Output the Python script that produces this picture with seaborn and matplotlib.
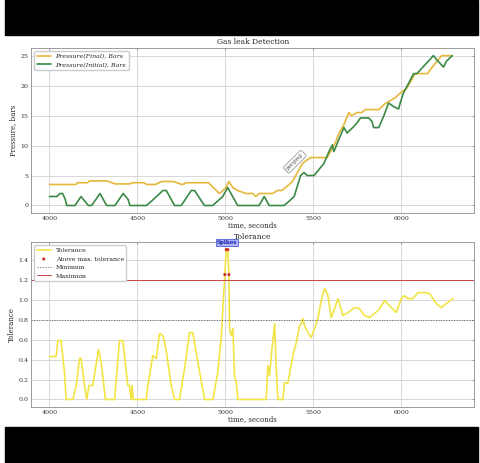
import numpy as np
import pandas as pd
import matplotlib
matplotlib.use("Agg")
import matplotlib.pyplot as plt
from matplotlib.patches import Rectangle
import seaborn as sns

# Pressure readings
t_final = [4000, 4150, 4159, 4216, 4227, 4326, 4373, 4459, 4468, 4535, 4554, 4601,
           4639, 4705, 4753, 4781, 4904, 4966, 5004, 5019, 5042, 5070, 5117, 5155,
           5174, 5192, 5268, 5296, 5320, 5343, 5362, 5381, 5400, 5419, 5438, 5460,
           5485, 5579, 5598, 5626, 5645, 5674, 5702, 5717, 5749, 5775, 5796, 5872,
           5890, 5909, 5938, 5966, 6004, 6030, 6060, 6079, 6150, 6174, 6202, 6230, 6290]
p_final = [3.5, 3.5, 3.8, 3.8, 4.1, 4.1, 3.6, 3.6, 3.8, 3.8, 3.5, 3.5,
           4.0, 4.0, 3.5, 3.8, 3.8, 2.0, 3.0, 4.0, 3.0, 2.5, 2.0, 2.0,
           1.5, 2.0, 2.0, 2.5, 2.5, 3.0, 3.5, 4.0, 5.0, 6.0, 7.0, 7.5,
           8.0, 8.0, 9.0, 10.5, 12.0, 13.5, 15.5, 15.0, 15.5, 15.5, 16.0, 16.0,
           16.5, 17.0, 17.5, 18.0, 19.0, 19.5, 21.0, 22.0, 22.0, 23.0, 24.0, 25.0, 25.0]

t_init = [4000, 4042, 4060, 4075, 4090, 4098, 4145, 4179, 4221, 4240, 4287, 4325,
          4372, 4419, 4447, 4457, 4551, 4579, 4645, 4664, 4711, 4749, 4806, 4825,
          4881, 4928, 4985, 5013, 5032, 5070, 5192, 5221, 5249, 5334, 5362, 5391,
          5409, 5428, 5447, 5466, 5504, 5532, 5560, 5589, 5608, 5617, 5645, 5674,
          5692, 5721, 5749, 5768, 5815, 5834, 5843, 5872, 5900, 5928, 5957, 5985,
          5994, 6013, 6042, 6070, 6089, 6117, 6155, 6183, 6202, 6240, 6258, 6290]
p_init = [1.5, 1.5, 2.0, 2.0, 1.0, 0.0, 0.0, 1.5, 0.0, 0.0, 2.0, 0.0,
          0.0, 2.0, 1.0, 0.0, 0.0, 0.7, 2.5, 2.5, 0.0, 0.0, 2.5, 2.5,
          0.0, 0.0, 1.5, 3.0, 2.0, 0.0, 0.0, 1.5, 0.0, 0.0, 0.7, 1.5,
          3.2, 5.0, 5.5, 5.0, 5.0, 6.0, 7.0, 9.0, 10.1, 9.0, 11.0, 13.0,
          12.1, 12.9, 13.8, 14.6, 14.6, 14.0, 13.0, 13.0, 14.9, 17.1, 16.5, 16.1,
          17.1, 18.8, 20.4, 22.0, 22.0, 22.9, 24.1, 25.0, 24.3, 23.1, 24.1, 25.0]

# Tolerance readings
t_tol = [4000, 4038, 4047, 4066, 4085, 4095, 4133, 4152, 4171, 4180, 4199, 4212,
         4224, 4246, 4279, 4294, 4318, 4370, 4398, 4417, 4445, 4455, 4464, 4470,
         4476, 4550, 4559, 4588, 4607, 4626, 4645, 4664, 4692, 4711, 4739, 4768,
         4796, 4815, 4844, 4882, 4929, 4957, 4976, 4997, 5005, 5014, 5020, 5024,
         5033, 5043, 5052, 5062, 5071, 5232, 5242, 5251, 5261, 5280, 5289, 5299,
         5327, 5336, 5355, 5384, 5403, 5422, 5431, 5441, 5450, 5469, 5488, 5507,
         5526, 5545, 5564, 5583, 5602, 5621, 5640, 5668, 5697, 5735, 5763, 5791,
         5820, 5848, 5877, 5905, 5943, 5972, 6000, 6019, 6038, 6066, 6095, 6133,
         6161, 6199, 6228, 6256, 6294]
tol = [0.43, 0.43, 0.59, 0.59, 0.27, 0.0, 0.0, 0.14, 0.41, 0.41, 0.14, 0.0,
       0.14, 0.14, 0.50, 0.37, 0.0, 0.0, 0.59, 0.59, 0.14, 0.14, 0.0, 0.14,
       0.0, 0.0, 0.14, 0.44, 0.41, 0.66, 0.64, 0.49, 0.14, 0.0, 0.0, 0.31,
       0.67, 0.67, 0.37, 0.0, 0.0, 0.27, 0.61, 1.25, 1.5, 1.5, 1.25, 0.71,
       0.64, 0.71, 0.24, 0.17, 0.0, 0.0, 0.34, 0.24, 0.44, 0.76, 0.31, 0.0,
       0.0, 0.17, 0.16, 0.44, 0.57, 0.74, 0.76, 0.81, 0.74, 0.67, 0.62, 0.71,
       0.81, 0.99, 1.11, 1.04, 0.82, 0.91, 1.01, 0.84, 0.87, 0.92, 0.91, 0.84,
       0.82, 0.86, 0.91, 0.99, 0.92, 0.87, 1.01, 1.04, 1.01, 1.01, 1.07, 1.07,
       1.06, 0.96, 0.92, 0.96, 1.01]

# points above max tolerance
t_above = [4997, 5005, 5014, 5020]
tol_above = [1.25, 1.5, 1.5, 1.25]

tol_min = 0.8
tol_max = 1.2

sns.set_theme(style="whitegrid")
plt.rcParams['font.family'] = ['DejaVu Serif']
plt.rcParams.update({
    "xtick.direction": "in", "ytick.direction": "in",
    "xtick.top": True, "ytick.right": True,
    "xtick.labelsize": 4.5, "ytick.labelsize": 4.5,
    "axes.edgecolor": "0.55", "axes.linewidth": 0.6,
    "grid.color": "0.82", "grid.linewidth": 0.6,
    "xtick.major.size": 1.5, "ytick.major.size": 1.5,
    "xtick.major.width": 0.5, "ytick.major.width": 0.5,
    "xtick.color": "0.5", "ytick.color": "0.5",
    "xtick.labelcolor": "0.2", "ytick.labelcolor": "0.2",
})

fig = plt.figure(figsize=(4.8, 4.63), dpi=100)
fig.patches.append(Rectangle((5 / 480, 1 - 35 / 463), 473 / 480, 35 / 463,
                             transform=fig.transFigure, color="black", zorder=-1))
fig.patches.append(Rectangle((5 / 480, 0), 473 / 480, 36 / 463,
                             transform=fig.transFigure, color="black", zorder=-1))

ax1 = fig.add_axes([0.065, 0.540, 0.923, 0.356])
ax2 = fig.add_axes([0.065, 0.121, 0.923, 0.356])

# Pressure plot
sns.lineplot(x=t_final, y=p_final, ax=ax1, color="#e6b83a", lw=1.2,
             label="Pressure(Final), Bars", sort=False, estimator=None)
sns.lineplot(x=t_init, y=p_init, ax=ax1, color="#3a8a45", lw=1.2,
             label="Pressure(Initial), Bars", sort=False, estimator=None)
ax1.set_title("Gas leak Detection", fontsize=5.5, pad=3)
ax1.set_xlabel("time, seconds", fontsize=5, labelpad=0)
ax1.set_ylabel("Pressure, bars", fontsize=5, labelpad=2)
ax1.set_yticks([0, 5, 10, 15, 20, 25])
ax1.set_xticks([4000, 4500, 5000, 5500, 6000])
ax1.set_xlim(3896, 6415)
ax1.legend(loc="upper left", prop={"style": "italic", "size": 4.5},
           frameon=True, framealpha=1, edgecolor="0.8", handlelength=2.2)
ax1.text(5395, 7.3, "purging", rotation=45, fontsize=4, ha="center", va="center",
         color="0.3", bbox=dict(boxstyle="round,pad=0.3", fc="white", ec="0.6", lw=0.6))

# Tolerance plot
sns.lineplot(x=t_tol, y=tol, ax=ax2, color="#f3e446", lw=1.2, label="Tolerance",
             sort=False, estimator=None)
sns.scatterplot(x=t_above, y=tol_above, ax=ax2, color="#d0302a", s=5, marker="o",
                edgecolor="none", label="Above max. tolerance", zorder=5)
ax2.axhline(tol_min, color="0.4", lw=0.7, ls=":", label="Minimum")
ax2.axhline(tol_max, color="#cc4444", lw=0.7, ls="-", label="Maximum")
ax2.set_title("Tolerance", fontsize=5.5, pad=2)
ax2.set_xlabel("time, seconds", fontsize=5, labelpad=0)
ax2.set_ylabel("Tolerance", fontsize=5, labelpad=2)
ax2.set_xticks([4000, 4500, 5000, 5500, 6000])
ax2.set_yticks([0.0, 0.2, 0.4, 0.6, 0.8, 1.0, 1.2, 1.4])
ax2.set_xlim(3896, 6415)
ax2.legend(loc="upper left", fontsize=4.5, frameon=True, framealpha=1,
           edgecolor="0.8", handlelength=2.2)
ax2.text(5009, 1.545, "Spikes", fontsize=4, ha="center", va="bottom", color="#1a1aa0",
         fontweight="bold", bbox=dict(boxstyle="square,pad=0.15", fc="#aab4ff", ec="#3344cc", lw=0.5))

for ax in (ax1, ax2):
    ax.tick_params(pad=2)

fig.savefig("out.png", dpi=100)
